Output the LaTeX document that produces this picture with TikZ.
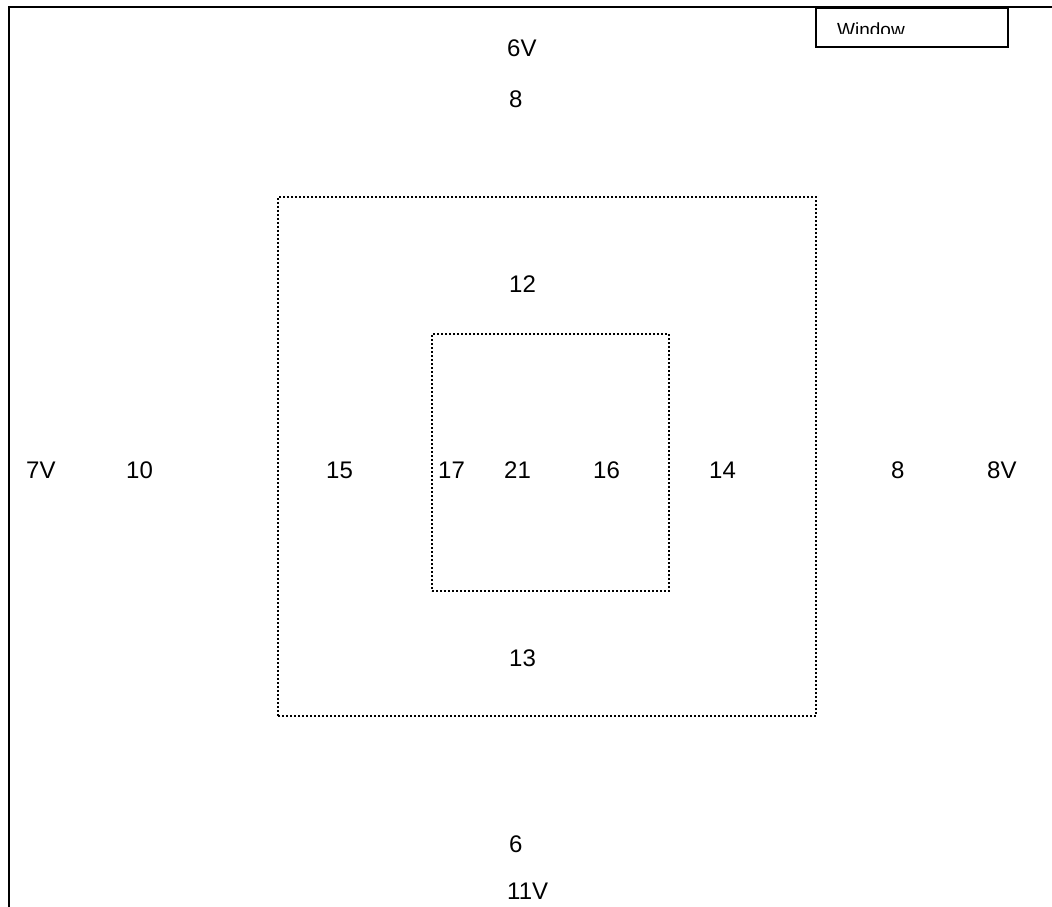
\documentclass[tikz,border=0pt]{standalone}
\usepackage{fontspec}
\setmainfont{Liberation Sans}
\begin{document}
\begin{tikzpicture}[x=1pt,y=-1pt,
  lbl/.style={font=\fontsize{24}{27}\selectfont, inner sep=0pt, anchor=base west},
  border/.style={line width=2pt, black},
  dotbox/.style={line width=2pt, dash pattern=on 2pt off 2pt, black}]
\useasboundingbox (0,0) rectangle (1052,907);
% frame
\coordinate (tl) at (9,7);
\coordinate (tr) at (1052,7);
\coordinate (bl) at (9,907);
\draw[border] (bl) -- (tl) -- (tr);
% window box
\node[draw, line width=2pt, minimum width=192pt, minimum height=39pt, inner sep=0pt, anchor=north west, fill=white] (win) at (815,7) {};
\begin{scope}
  \clip (816,8) rectangle (1006,34);
  \node[font=\fontsize{19}{22}\selectfont, inner sep=0pt, anchor=base west] (wintext) at (837,37) {Window};
\end{scope}
% dotted boxes
\node[dotbox, draw, minimum width=538pt, minimum height=519pt, inner sep=0pt, anchor=north west] (outer) at (277,196) {};
\node[dotbox, draw, minimum width=237pt, minimum height=257pt, inner sep=0pt, anchor=north west] (inner) at (431,333) {};
% labels (baseline positions)
\node[lbl] (t6v) at (507,57) {6V};
\node[lbl] (t8a) at (509,107) {8};
\node[lbl] (t12) at (509,292) {12};
\node[lbl] (t7v) at (26,478) {7V};
\node[lbl] (t10) at (126,478) {10};
\node[lbl] (t15) at (326,478) {15};
\node[lbl] (t17) at (438,478) {17};
\node[lbl] (t21) at (504,478) {21};
\node[lbl] (t16) at (593,478) {16};
\node[lbl] (t14) at (709,478) {14};
\node[lbl] (t8b) at (891,478) {8};
\node[lbl] (t8v) at (987,478) {8V};
\node[lbl] (t13) at (509,666) {13};
\node[lbl] (t6) at (509,852) {6};
\node[lbl] (t11v) at (507,899) {11V};
\end{tikzpicture}
\end{document}
